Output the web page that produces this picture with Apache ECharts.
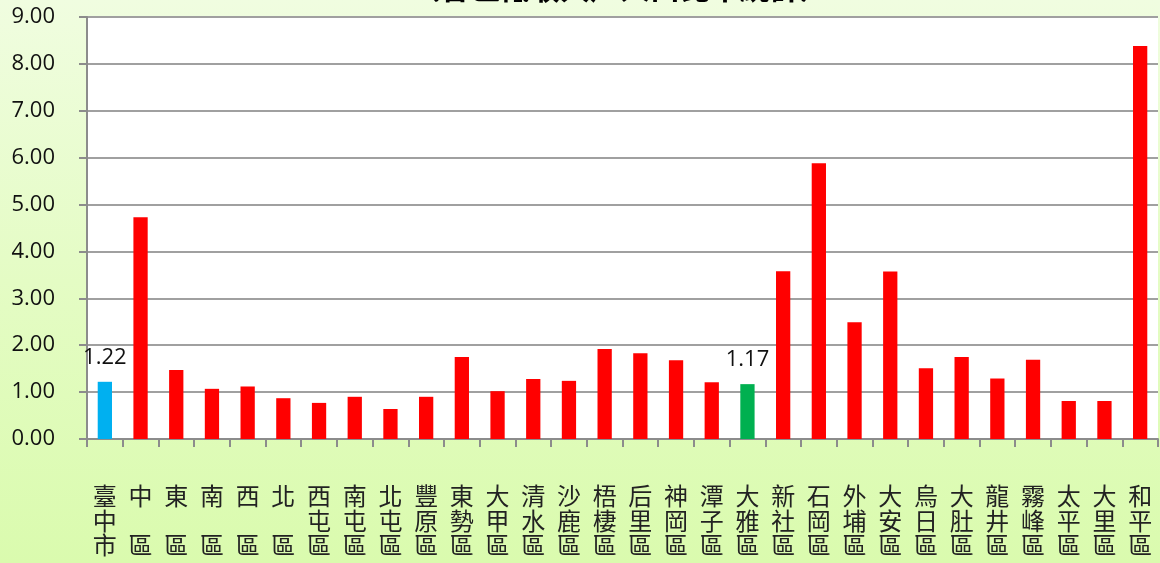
<!DOCTYPE html>
<html><head><meta charset="utf-8">
<script src="https://cdn.jsdelivr.net/npm/echarts@6/dist/echarts.min.js"></script>
<style>
html,body{margin:0;padding:0;}
body{background:linear-gradient(to bottom,#f0fde0 0%,#e4fcc4 50%,#dafbae 100%);}
#c{width:1160px;height:563px;}
</style></head>
<body><div id="c"></div>
<script>
const titleText = '（各區低收入戶人口比率統計）';
const categories = ['臺中市','中區','東區','南區','西區','北區','西屯區','南屯區','北屯區','豐原區','東勢區','大甲區','清水區','沙鹿區','梧棲區','后里區','神岡區','潭子區','大雅區','新社區','石岡區','外埔區','大安區','烏日區','大肚區','龍井區','霧峰區','太平區','大里區','和平區'];
const values = [1.22,4.73,1.47,1.07,1.12,0.87,0.77,0.90,0.64,0.90,1.75,1.02,1.28,1.24,1.92,1.83,1.68,1.21,1.17,3.58,5.88,2.49,3.57,1.51,1.75,1.29,1.69,0.81,0.81,8.38];
const yTicks = [0,1,2,3,4,5,6,7,8,9];
const highlight = {'臺中市':'#00b0f0','大雅區':'#00b050'};
const labelled = ['臺中市','大雅區'];

const chart = echarts.init(document.getElementById('c'), null, {renderer:'canvas'});
const data = values.map((v,i)=>{
  const name = categories[i];
  const o = {value:v, itemStyle:{color: highlight[name] || '#ff0000'}};
  if (labelled.includes(name)) {
    o.label = {show:true, position:'top', distance:13, formatter: p => p.value.toFixed(2), fontSize:22, color:'#111', fontFamily:'Open Sans, Liberation Sans, sans-serif'};
  }
  return o;
});
chart.setOption({
  animation:false,
  backgroundColor:'transparent',
  title:{text:titleText, left:405, top:-32, textStyle:{fontSize:30, fontWeight:'bold', color:'#000', fontFamily:'Noto Sans CJK TC'}},
  grid:{left:87, right:2, top:17, bottom:124, show:true, backgroundColor:'#ffffff', borderWidth:0},
  xAxis:{
    type:'category', data:categories,
    axisLine:{lineStyle:{color:'#8c8c8c', width:2}},
    axisTick:{show:true, length:8, lineStyle:{color:'#8c8c8c', width:2}, alignWithLabel:false},
    axisLabel:{
      interval:0, margin:45, fontSize:24, lineHeight:24.5, color:'#222',
      fontFamily:'Noto Sans CJK TC',
      formatter: s => {
        const ch = s.split('');
        if (ch.length === 2) return ch[0] + '\n\n' + ch[1];
        return ch.join('\n');
      },
      verticalAlign:'top'
    }
  },
  yAxis:{
    type:'value', min:yTicks[0], max:yTicks[yTicks.length-1], interval:1,
    axisLine:{show:true, lineStyle:{color:'#8c8c8c', width:2}},
    axisTick:{show:true, length:8, lineStyle:{color:'#8c8c8c', width:2}},
    splitLine:{lineStyle:{color:'#a0a0a0', width:2}},
    axisLabel:{fontSize:22, color:'#111', margin:32, formatter: v => v.toFixed(2), fontFamily:'Open Sans, Liberation Sans, sans-serif'}
  },
  series:[{type:'bar', data:data, barWidth:'40%'}]
});
</script></body></html>
